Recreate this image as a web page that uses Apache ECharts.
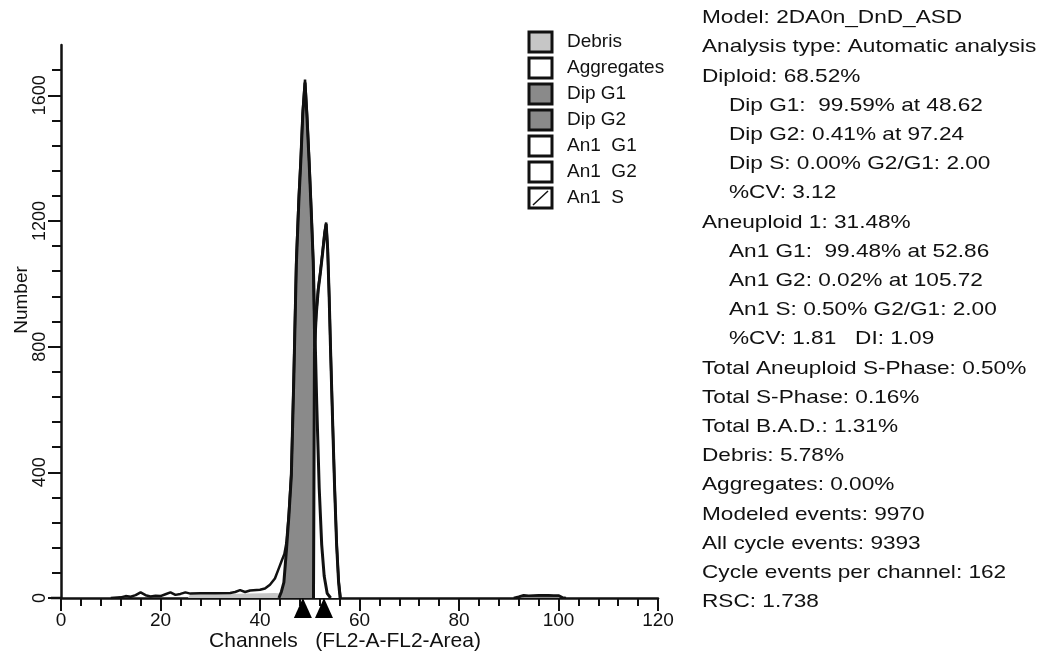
<!DOCTYPE html>
<html>
<head>
<meta charset="utf-8">
<script src="https://cdn.jsdelivr.net/npm/echarts@6/dist/echarts.min.js"></script>
<style>
  html, body { margin: 0; padding: 0; background: #fff; }
  #chart { width: 1045px; height: 660px; }
</style>
</head>
<body>
<div id="chart"></div>
<script>
// measured histogram (outer outline)
const histChannels = [10, 12, 13, 14, 15, 16, 17, 18, 19, 20, 21, 22, 23, 24, 25, 26, 28, 31, 34, 35, 36, 37, 38, 40, 41, 42, 43, 43.8, 44.4, 44.9, 45.3, 45.8, 46.3, 46.8, 47.3, 47.8, 48.2, 48.6, 49.05, 49.45, 49.87, 50.3, 50.7, 50.95, 51.3, 51.7, 52.1, 52.6, 53.0, 53.3, 53.6, 53.9, 54.2, 54.6, 55.0, 55.4, 55.8, 56.2]
const histCounts = [0, 2, 6, 4, 9, 18, 9, 5, 7, 6, 12, 18, 10, 13, 18, 14, 15, 15, 16, 19, 25, 19, 24, 26, 30, 42, 62, 95, 120, 140, 175, 270, 400, 720, 1080, 1280, 1400, 1550, 1650, 1540, 1400, 1240, 1075, 800, 905, 985, 1035, 1105, 1165, 1195, 1115, 965, 785, 565, 355, 175, 55, 0]
const tailChannels = [91, 92, 93, 94, 95, 96, 97, 98, 99, 100, 100.8, 101.5]
const tailCounts = [0, 4, 9, 7, 8, 9, 9, 9, 8, 8, 2, 0]

// model components
const debrisChannels = [25.5, 26, 30, 34, 38, 41, 43, 44.3, 44.5]
const debrisCounts = [0, 12, 12, 13, 14, 15, 16, 14, 0]
const dipG1Channels = [43.8, 44.3, 44.8, 45.3, 45.8, 46.3, 46.8, 47.3, 47.8, 48.2, 48.6, 49.05, 49.45, 49.87, 50.3, 50.7, 51.0, 51.4, 51.9, 52.4, 52.9, 53.5, 54.2]
const dipG1Counts = [0, 20, 50, 150, 260, 390, 700, 1060, 1260, 1390, 1540, 1640, 1530, 1390, 1230, 1070, 880, 620, 350, 170, 70, 15, 0]
const an1G1Channels = [50.75, 50.85, 50.95, 51.3, 51.7, 52.1, 52.6, 53.0, 53.3, 53.6, 53.9, 54.2, 54.6, 55.0, 55.4, 55.8, 56.1]
const an1G1Counts = [0, 400, 790, 900, 980, 1030, 1100, 1160, 1190, 1110, 960, 780, 560, 350, 170, 50, 0]
const dipG2Channels = [91.5, 92.5, 94, 97, 100, 100.8]
const dipG2Counts = [0, 5, 6, 7, 6, 0]

// G1 peak markers
const peakChannels = [48.62, 52.86]

const yMajorTicks = [0, 400, 800, 1200, 1600]
const yMinorTicks = [80, 160, 240, 320, 480, 560, 640, 720, 880, 960, 1040, 1120, 1280, 1360, 1440, 1520, 1680]

const legendNames = ['Debris', 'Aggregates', 'Dip G1', 'Dip G2', 'An1  G1', 'An1  G2', 'An1  S']
const legendFills = ['#c6c6c6', '#fff', '#8a8a8a', '#8a8a8a', '#fff', '#fff', '#fff']

const infoLines = [
  'Model: 2DA0n_DnD_ASD',
  'Analysis type: Automatic analysis',
  'Diploid: 68.52%',
  '  Dip G1:  99.59% at 48.62',
  '  Dip G2: 0.41% at 97.24',
  '  Dip S: 0.00% G2/G1: 2.00',
  '  %CV: 3.12',
  'Aneuploid 1: 31.48%',
  '  An1 G1:  99.48% at 52.86',
  '  An1 G2: 0.02% at 105.72',
  '  An1 S: 0.50% G2/G1: 2.00',
  '  %CV: 1.81   DI: 1.09',
  'Total Aneuploid S-Phase: 0.50%',
  'Total S-Phase: 0.16%',
  'Total B.A.D.: 1.31%',
  'Debris: 5.78%',
  'Aggregates: 0.00%',
  'Modeled events: 9970',
  'All cycle events: 9393',
  'Cycle events per channel: 162',
  'RSC: 1.738'
]

function pairs(xs, ys) {
  return xs.map((x, i) => [x, ys[i]])
}

const FONT = 'Liberation Sans, Arial, sans-serif'
const INK = '#111'

// legend boxes and the text block on the right
const graphics = []
legendNames.forEach((name, i) => {
  const top = 32 + i * 26
  graphics.push({
    type: 'rect', x: 529, y: top,
    shape: { width: 23, height: 20 },
    style: { fill: legendFills[i], stroke: INK, lineWidth: 3 }
  })
  if (name === 'An1  S') {
    graphics.push({
      type: 'line',
      shape: { x1: 533, y1: top + 17, x2: 548, y2: top + 3 },
      style: { stroke: INK, lineWidth: 1.5 }
    })
  }
  graphics.push({
    type: 'text', x: 567, y: top + 10,
    style: { text: name, font: '19px ' + FONT, fill: INK, verticalAlign: 'middle' }
  })
})
infoLines.forEach((line, i) => {
  const indent = line.startsWith('  ')
  graphics.push({
    type: 'text', x: indent ? 729 : 702, y: 18 + i * 29.2,
    scaleX: 1.19,
    style: { text: line.trim(), font: '19px ' + FONT, fill: INK, verticalAlign: 'middle' }
  })
})
graphics.push({
  type: 'text', x: 345, y: 641,
  style: { text: 'Channels   (FL2-A-FL2-Area)', font: '21px ' + FONT, fill: INK, align: 'center', verticalAlign: 'middle' }
})
graphics.push({
  type: 'text', x: 22, y: 300, rotation: Math.PI / 2,
  style: { text: 'Number', font: '19px ' + FONT, fill: INK, align: 'center', verticalAlign: 'middle' }
})
// x axis line runs a little past the y axis on the left
graphics.push({
  type: 'line',
  shape: { x1: 51, y1: 598, x2: 62, y2: 598 },
  style: { stroke: INK, lineWidth: 2.5 }
})

const chart = echarts.init(document.getElementById('chart'))
chart.setOption({
  animation: false,
  backgroundColor: '#fff',
  grid: { left: 61, right: 387, top: 45, bottom: 62 },
  xAxis: {
    type: 'value', min: 0, max: 120, interval: 20,
    splitLine: { show: false },
    axisLine: { lineStyle: { color: INK, width: 2.5 } },
    axisTick: { length: 13, lineStyle: { color: INK, width: 2 } },
    minorTick: { show: true, splitNumber: 5, length: 8, lineStyle: { color: INK, width: 2 } },
    minorSplitLine: { show: false },
    axisLabel: { color: INK, fontSize: 19, fontFamily: FONT, margin: 13 }
  },
  yAxis: [
    {
      type: 'value', min: 0, max: 1760, position: 'left',
      splitLine: { show: false },
      axisLine: { show: true, lineStyle: { color: INK, width: 2.5 } },
      axisTick: { show: true, length: 13, customValues: yMajorTicks, lineStyle: { color: INK, width: 2 } },
      axisLabel: {
        customValues: yMajorTicks, rotate: 90, color: INK, fontSize: 18, fontFamily: FONT, margin: 12,
        formatter: v => String(v)
      }
    },
    {
      type: 'value', min: 0, max: 1760, position: 'left',
      splitLine: { show: false },
      axisLine: { show: false, onZero: false },
      axisTick: { show: true, length: 9, customValues: yMinorTicks, lineStyle: { color: INK, width: 2 } },
      axisLabel: { show: false }
    }
  ],
  graphic: graphics,
  series: [
    {
      name: 'Debris', type: 'line', data: pairs(debrisChannels, debrisCounts),
      symbol: 'none', lineStyle: { width: 0 },
      areaStyle: { color: '#c6c6c6', opacity: 1 }
    },
    {
      name: 'Dip G1', type: 'line', data: pairs(dipG1Channels, dipG1Counts),
      symbol: 'none', lineStyle: { color: INK, width: 3 },
      areaStyle: { color: '#8a8a8a', opacity: 1 }
    },
    {
      name: 'An1 G1', type: 'line', data: pairs(an1G1Channels, an1G1Counts),
      symbol: 'none', lineStyle: { color: INK, width: 3 },
      areaStyle: { color: '#fff', opacity: 1 }
    },
    {
      name: 'Dip G2', type: 'line', data: pairs(dipG2Channels, dipG2Counts),
      symbol: 'none', lineStyle: { color: INK, width: 1.5 },
      areaStyle: { color: '#8a8a8a', opacity: 1 }
    },
    {
      name: 'Histogram', type: 'line', data: pairs(histChannels, histCounts),
      symbol: 'none', lineStyle: { color: INK, width: 2.5 }
    },
    {
      name: 'Histogram tail', type: 'line', data: pairs(tailChannels, tailCounts),
      symbol: 'none', lineStyle: { color: INK, width: 2.5 }
    },
    {
      name: 'G1 peaks', type: 'scatter', clip: false,
      data: peakChannels.map(c => [c, 0]),
      symbol: 'triangle', symbolSize: [18, 20], symbolOffset: [0, 10],
      itemStyle: { color: '#000', opacity: 1 }
    }
  ]
})
</script>
</body>
</html>
